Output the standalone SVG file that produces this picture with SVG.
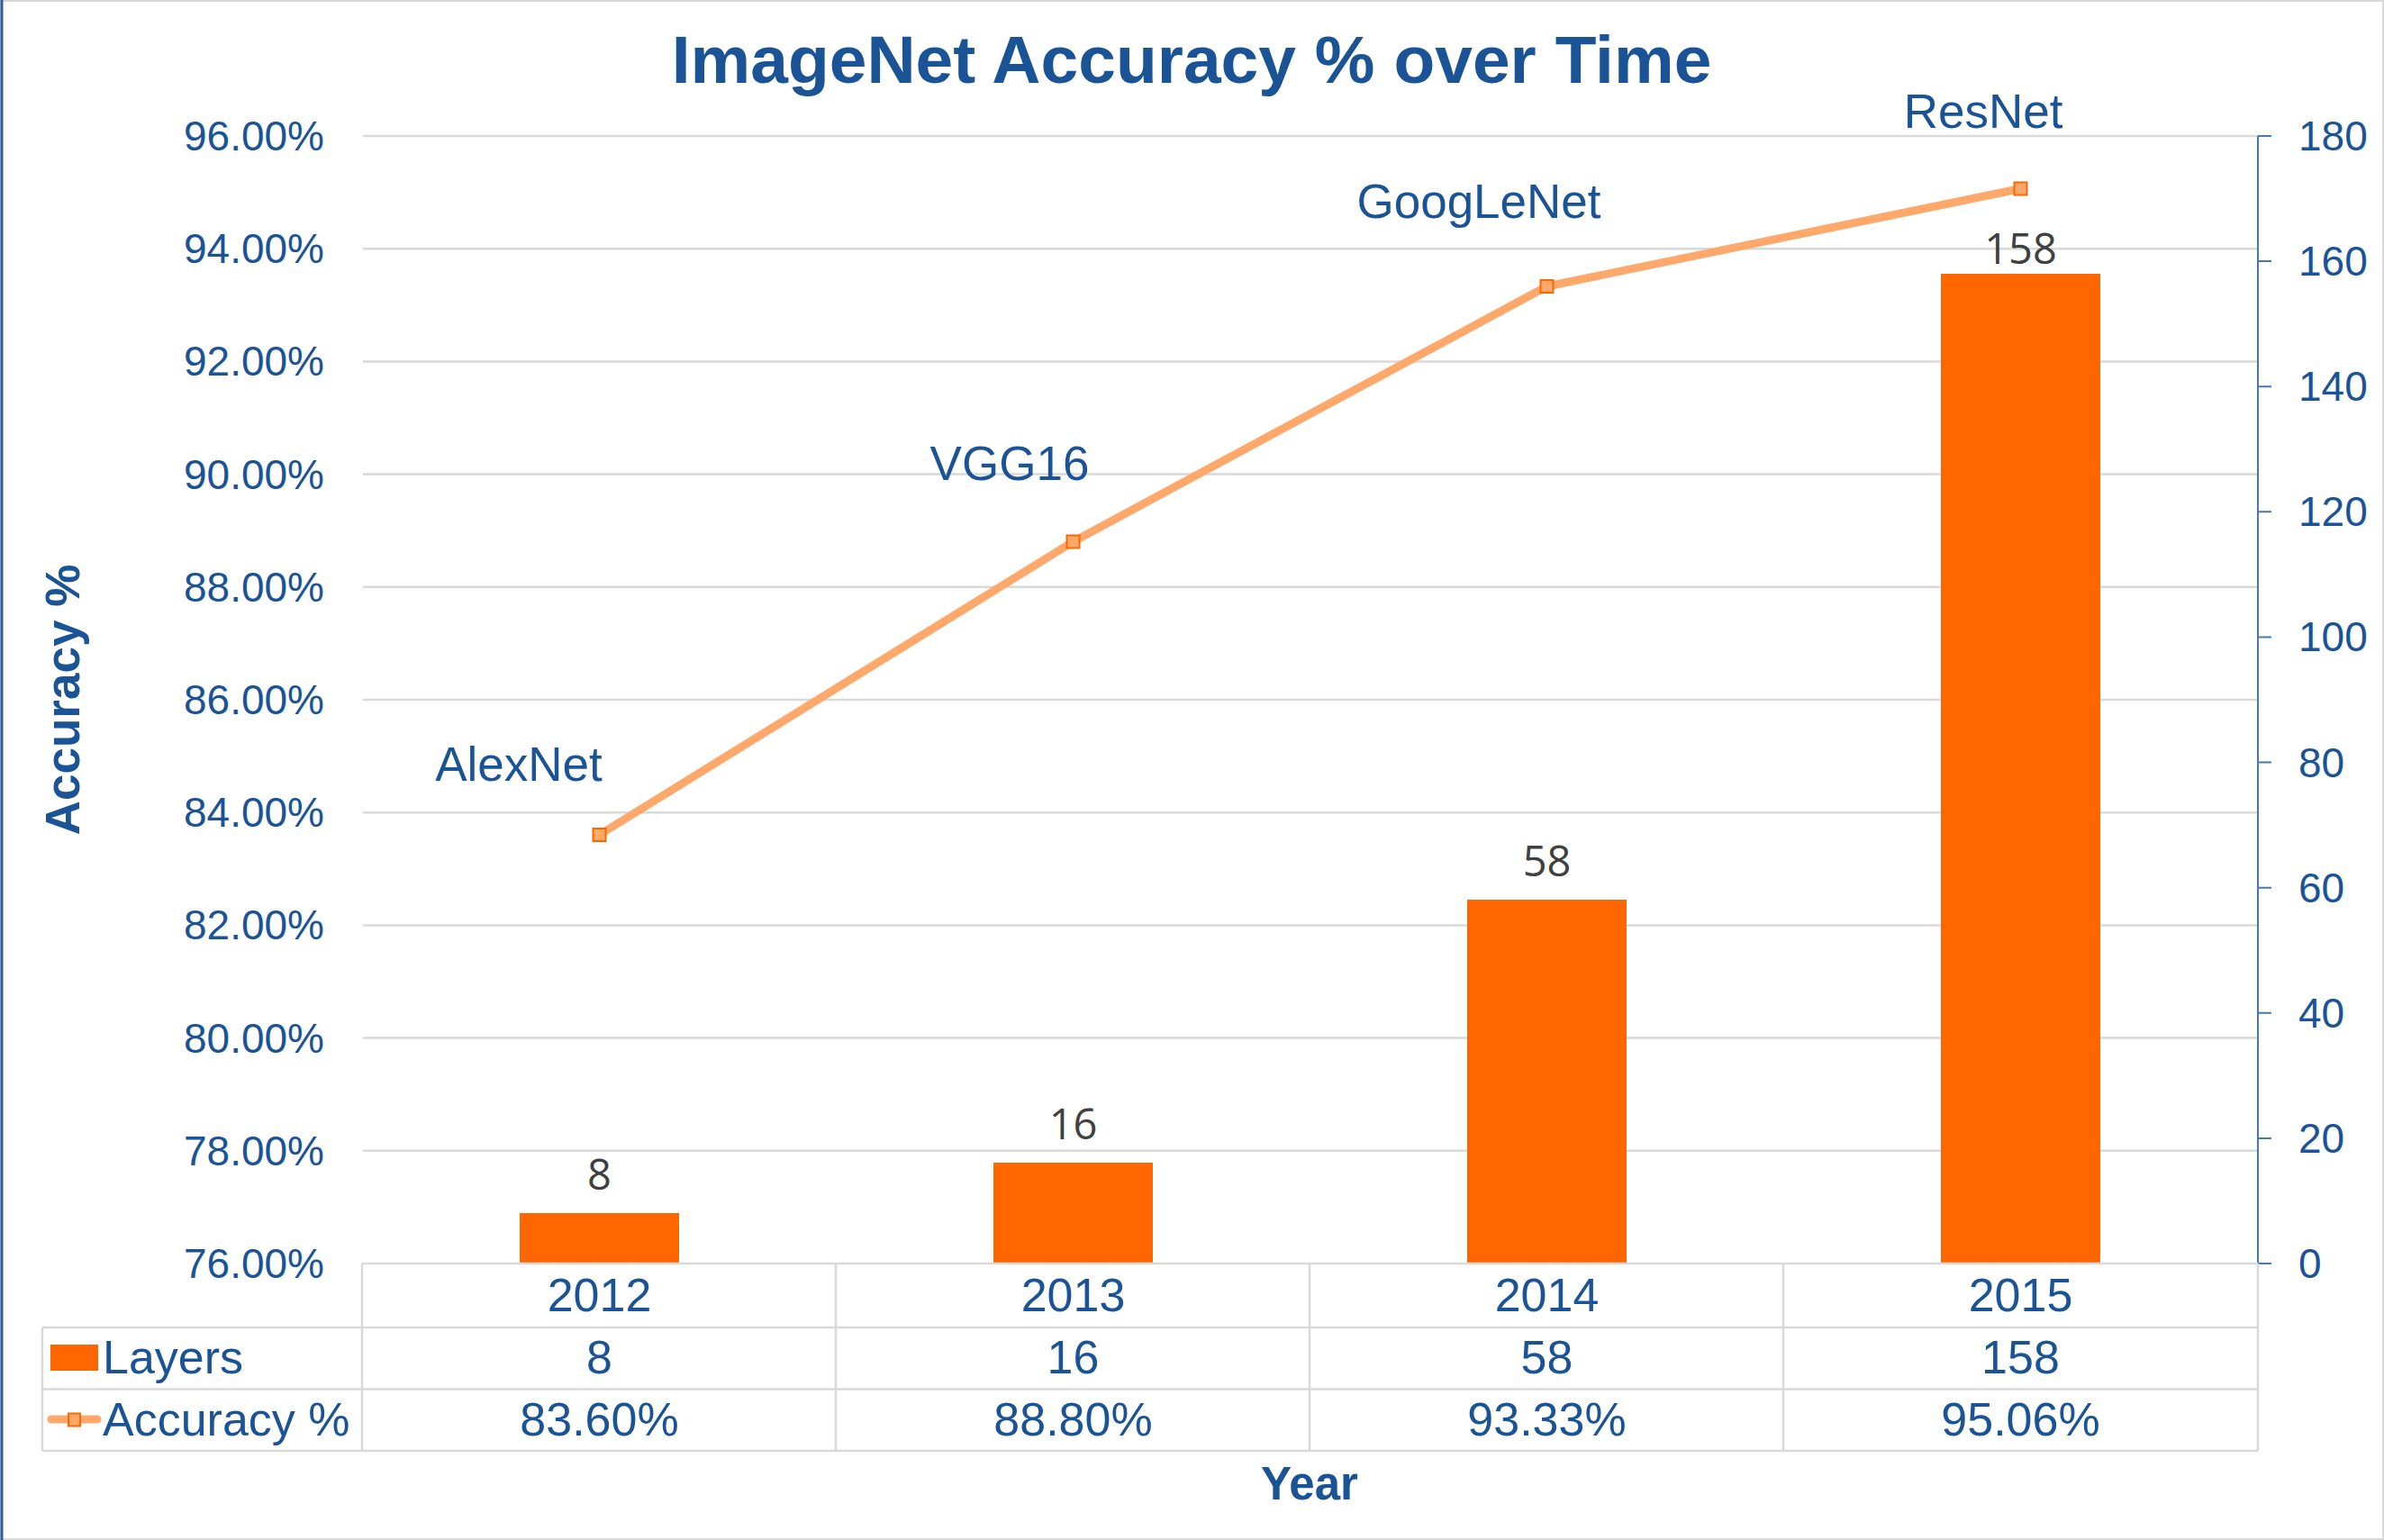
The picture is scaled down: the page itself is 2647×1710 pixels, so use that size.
<svg xmlns="http://www.w3.org/2000/svg" width="2647" height="1710" viewBox="0 0 2647 1710">
  <style>
    .blue { fill: #1a5496; font-family: "Liberation Sans", Arial, sans-serif; }
    .axis { font-size: 46px; }
    .ylab { text-anchor: end; }
    .rlab { text-anchor: start; }
    .cell { font-size: 52px; text-anchor: middle; }
    .leg { font-size: 52px; }
    .name { font-size: 53px; text-anchor: middle; }
    .ttl { font-weight: bold; text-anchor: middle; }
    .val { fill: #404040; font-family: "Open Sans", "Noto Sans", sans-serif; font-size: 47px; text-anchor: middle; }
    .grid { stroke: #d9d9d9; stroke-width: 2.5; fill: none; }
    .bar { fill: #ff6600; }
    .series { stroke: #ffa86c; stroke-width: 9; fill: none; stroke-linejoin: round; }
    .mk { fill: #ffa86c; stroke: #ff6600; stroke-width: 2; }
    .raxis { stroke: #4a78b0; stroke-width: 2; fill: none; }
  </style>

  <!-- chart frame -->
  <rect x="0" y="0" width="2647" height="1710" fill="#ffffff"/>
  <rect x="1" y="1" width="2645" height="1708" fill="none" stroke="#d9d9d9" stroke-width="2"/>
  <line x1="2" y1="0" x2="2" y2="1710" stroke="#2e5c9a" stroke-width="3"/>

  <!-- title -->
  <text class="blue ttl" x="1323" y="92" font-size="75">ImageNet Accuracy % over Time</text>

  <!-- horizontal gridlines, 76% .. 96% -->
  <g id="gridlines" class="grid">
    <line x1="403" y1="151" x2="2507" y2="151"/>
    <line x1="403" y1="276.2" x2="2507" y2="276.2"/>
    <line x1="403" y1="401.4" x2="2507" y2="401.4"/>
    <line x1="403" y1="526.6" x2="2507" y2="526.6"/>
    <line x1="403" y1="651.8" x2="2507" y2="651.8"/>
    <line x1="403" y1="777" x2="2507" y2="777"/>
    <line x1="403" y1="902.2" x2="2507" y2="902.2"/>
    <line x1="403" y1="1027.4" x2="2507" y2="1027.4"/>
    <line x1="403" y1="1152.6" x2="2507" y2="1152.6"/>
    <line x1="403" y1="1277.8" x2="2507" y2="1277.8"/>
  </g>

  <!-- primary axis labels -->
  <g id="y-axis-left" class="blue axis ylab">
    <text x="360" y="167">96.00%</text>
    <text x="360" y="292">94.00%</text>
    <text x="360" y="417">92.00%</text>
    <text x="360" y="543">90.00%</text>
    <text x="360" y="668">88.00%</text>
    <text x="360" y="793">86.00%</text>
    <text x="360" y="918">84.00%</text>
    <text x="360" y="1043">82.00%</text>
    <text x="360" y="1169">80.00%</text>
    <text x="360" y="1294">78.00%</text>
    <text x="360" y="1419">76.00%</text>
  </g>
  <text class="blue ttl" font-size="53" transform="translate(88,777) rotate(-90)" x="0" y="0">Accuracy %</text>

  <!-- secondary axis (layers 0..180) -->
  <g id="y-axis-right">
    <path class="raxis" d="M2507,151 V1403 M2507,151 H2522 M2507,290.1 H2522 M2507,429.2 H2522 M2507,568.3 H2522 M2507,707.4 H2522 M2507,846.6 H2522 M2507,985.7 H2522 M2507,1124.8 H2522 M2507,1263.9 H2522 M2507,1403 H2522"/>
    <g class="blue axis rlab">
      <text x="2552" y="167">180</text>
      <text x="2552" y="306">160</text>
      <text x="2552" y="445">140</text>
      <text x="2552" y="584">120</text>
      <text x="2552" y="723">100</text>
      <text x="2552" y="863">80</text>
      <text x="2552" y="1002">60</text>
      <text x="2552" y="1141">40</text>
      <text x="2552" y="1280">20</text>
      <text x="2552" y="1419">0</text>
    </g>
  </g>

  <!-- layer bars -->
  <g id="bar-2012"><rect class="bar" x="577" y="1347" width="177" height="56"/><text class="val" x="665.5" y="1321">8</text></g>
  <g id="bar-2013"><rect class="bar" x="1103" y="1291" width="177" height="112"/><text class="val" x="1191.5" y="1265">16</text></g>
  <g id="bar-2014"><rect class="bar" x="1629" y="999" width="177" height="404"/><text class="val" x="1717.5" y="973">58</text></g>
  <g id="bar-2015"><rect class="bar" x="2155" y="304" width="177" height="1099"/><text class="val" x="2243.5" y="293">158</text></g>

  <!-- accuracy series -->
  <g id="connectors">
    <polyline class="series" points="665.5,927 1191.5,601.5 1717.5,318 2243.5,209.5"/>
  </g>
  <g id="pt-alexnet"><rect class="mk" x="658.5" y="920" width="14" height="14"/><text class="blue name" x="576" y="867">AlexNet</text></g>
  <g id="pt-vgg16"><rect class="mk" x="1184.5" y="594.5" width="14" height="14"/><text class="blue name" x="1121" y="533">VGG16</text></g>
  <g id="pt-googlenet"><rect class="mk" x="1710.5" y="311" width="14" height="14"/><text class="blue name" x="1642" y="242">GoogLeNet</text></g>
  <g id="pt-resnet"><rect class="mk" x="2236.5" y="202.5" width="14" height="14"/><text class="blue name" x="2202" y="142">ResNet</text></g>

  <!-- data table -->
  <g id="data-table">
    <path class="grid" d="M402,1403 H2507 M47,1474 H2507 M47,1542.5 H2507 M47,1611 H2507 M47,1474 V1611 M402,1403 V1611 M928,1403 V1611 M1454,1403 V1611 M1980,1403 V1611 M2507,1403 V1611"/>
    <g class="blue cell">
      <text x="665.5" y="1456">2012</text>
      <text x="1191.5" y="1456">2013</text>
      <text x="1717.5" y="1456">2014</text>
      <text x="2243.5" y="1456">2015</text>
      <text x="665.5" y="1525">8</text>
      <text x="1191.5" y="1525">16</text>
      <text x="1717.5" y="1525">58</text>
      <text x="2243.5" y="1525">158</text>
      <text x="665.5" y="1594">83.60%</text>
      <text x="1191.5" y="1594">88.80%</text>
      <text x="1717.5" y="1594">93.33%</text>
      <text x="2243.5" y="1594">95.06%</text>
    </g>
    <rect class="bar" x="56" y="1493" width="53" height="29"/>
    <line x1="57" y1="1576" x2="108" y2="1576" stroke="#ffa86c" stroke-width="9" stroke-linecap="round"/>
    <rect class="mk" x="76" y="1569.5" width="13" height="14"/>
    <text class="blue leg" x="114" y="1525">Layers</text>
    <text class="blue leg" x="114" y="1594">Accuracy %</text>
  </g>

  <!-- category axis title -->
  <text class="blue ttl" x="1454" y="1665" font-size="51">Year</text>
</svg>
